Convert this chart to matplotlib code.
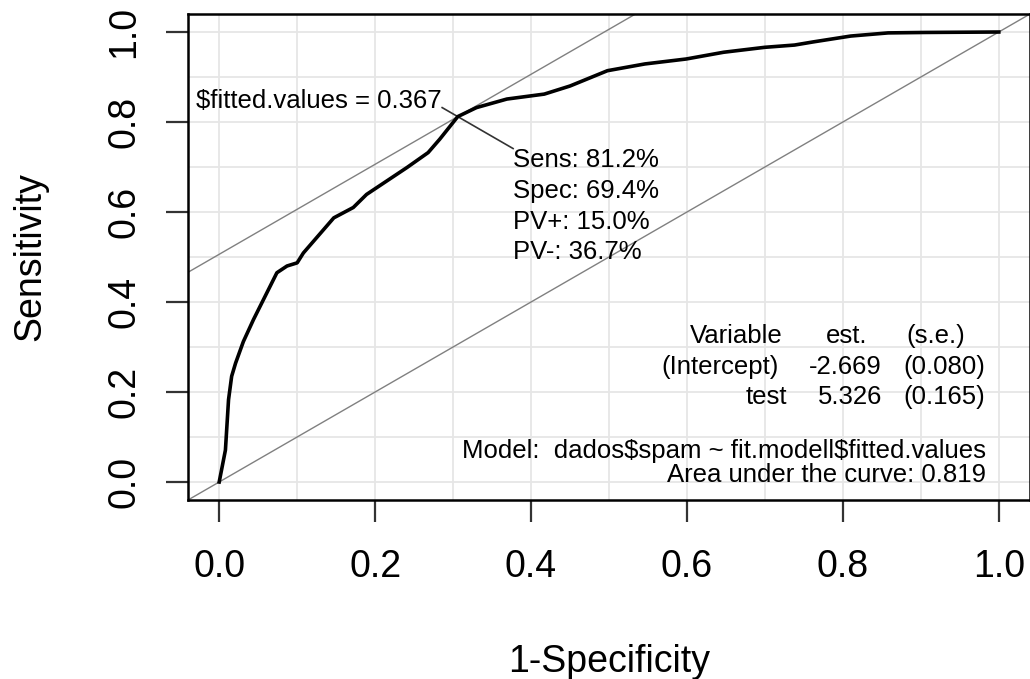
import numpy as np
import matplotlib
matplotlib.use("Agg")
import matplotlib.pyplot as plt

plt.rcParams['font.family'] = ['Liberation Sans', 'DejaVu Sans']
plt.rcParams['text.parse_math'] = False

# ------------------------
# ROC curve
# ------------------------
fpr = [0.0, 0.008, 0.012, 0.016, 0.021, 0.031, 0.044, 0.059, 0.074, 0.087,
       0.100, 0.108, 0.125, 0.147, 0.172, 0.189, 0.215, 0.241, 0.268, 0.283,
       0.306, 0.330, 0.369, 0.417, 0.450, 0.498, 0.546, 0.599, 0.647, 0.700,
       0.738, 0.762, 0.810, 0.858, 0.906, 1.0]
tpr = [0.0, 0.071, 0.183, 0.235, 0.264, 0.312, 0.361, 0.413, 0.465, 0.480,
       0.487, 0.509, 0.543, 0.587, 0.610, 0.639, 0.669, 0.699, 0.732, 0.762,
       0.812, 0.832, 0.851, 0.862, 0.880, 0.914, 0.929, 0.940, 0.955, 0.966,
       0.971, 0.978, 0.991, 0.998, 0.999, 1.0]

# optimal cut point
opt_fpr = 0.306
opt_sens = 0.812
cut_label = "$fitted.values = 0.367"
opt_lines = ["Sens: 81.2%", "Spec: 69.4%", "PV+: 15.0%", "PV-: 36.7%"]

# model table
tbl_vars = ["Variable", "(Intercept)", "test"]
tbl_est = ["est.", "-2.669", "5.326"]
tbl_se = ["(s.e.)", "(0.080)", "(0.165)"]
model_txt = "Model:  dados$spam ~ fit.modell$fitted.values"
auc_txt = "Area under the curve: 0.819"

ticks = [0.0, 0.2, 0.4, 0.6, 0.8, 1.0]
grid = np.arange(0, 11) / 10

fig = plt.figure(figsize=(10.3, 6.79), dpi=100)
ax = fig.add_axes([188 / 1030, 1 - 500 / 679, 1 - 188 / 1030, 486 / 679])
ax.set_xlim(-0.04, 1.04)
ax.set_ylim(-0.04, 1.04)

# grid like abline(h=, v=, col=gray(.9))
for g in grid:
    ax.axvline(g, color='#e6e6e6', lw=1.3, zorder=0)
    ax.axhline(g, color='#e6e6e6', lw=1.3, zorder=0)

xx = np.array([-0.04, 1.04])
ax.plot(xx, xx, color='#808080', lw=1.0, zorder=1)
ax.plot(xx, xx + (opt_sens - opt_fpr), color='#808080', lw=1.0, zorder=1)

ax.plot(fpr, tpr, color='black', lw=2.6, zorder=3)

# pointer line through the optimal point
ax.plot([opt_fpr - 0.02, opt_fpr + 0.071], [opt_sens + 0.02, opt_sens - 0.071],
        color='#333333', lw=1.2, zorder=2)

txt_size = 18.5
ax.text(0.285, 0.832, cut_label, ha='right', va='baseline', fontsize=txt_size)
for i, s in enumerate(opt_lines):
    ax.text(0.377, 0.699 - i * 0.068, s, ha='left', va='baseline', fontsize=txt_size)

row_y = [0.310, 0.2405, 0.174]
var_x = [0.723, 0.718, 0.729]
for i in range(3):
    ax.text(var_x[i], row_y[i], tbl_vars[i], ha='right', va='baseline', fontsize=txt_size)
    if i == 0:
        ax.text(0.778, row_y[i], tbl_est[i], ha='left', va='baseline', fontsize=txt_size)
        ax.text(0.882, row_y[i], tbl_se[i], ha='left', va='baseline', fontsize=txt_size)
    else:
        ax.text(0.850, row_y[i], tbl_est[i], ha='right', va='baseline', fontsize=txt_size)
        ax.text(0.983, row_y[i], tbl_se[i], ha='right', va='baseline', fontsize=txt_size)

ax.text(0.983, 0.053, model_txt, ha='right', va='baseline', fontsize=txt_size)
ax.text(0.983, 0.001, auc_txt, ha='right', va='baseline', fontsize=txt_size)

# axes
ax.set_xticks(ticks)
ax.set_yticks(ticks)
ax.set_xticklabels([f"{t:.1f}" for t in ticks])
ax.set_yticklabels([f"{t:.1f}" for t in ticks])
ax.tick_params(axis='both', length=16, width=1.6, color='#333333', labelsize=27)
ax.tick_params(axis='x', pad=19)
ax.tick_params(axis='y', pad=17)
for lbl in ax.get_yticklabels():
    lbl.set_rotation(90)
    lbl.set_va('center')
for sp in ax.spines.values():
    sp.set_linewidth(1.8)
    sp.set_color('black')

ax.set_xlabel("1-Specificity", fontsize=27)
ax.set_ylabel("Sensitivity", fontsize=27)
ax.xaxis.set_label_coords(0.5, (500 - 662) / 486)
ax.xaxis.label.set_va('center')
ax.yaxis.set_label_coords((30 - 188) / 842, 0.5)
ax.yaxis.label.set_va('center')

fig.savefig("out.png", dpi=100)
